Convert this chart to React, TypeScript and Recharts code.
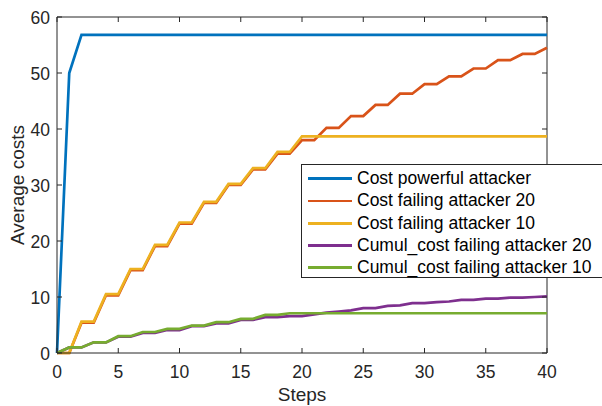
import { LineChart, Line, XAxis, YAxis, ReferenceLine } from "recharts";

const steps = [0, 1, 2, 3, 4, 5, 6, 7, 8, 9, 10, 11, 12, 13, 14, 15, 16, 17, 18, 19, 20, 21, 22, 23, 24, 25, 26, 27, 28, 29, 30, 31, 32, 33, 34, 35, 36, 37, 38, 39, 40];

const costPowerful = [0, 50, 56.8, 56.8, 56.8, 56.8, 56.8, 56.8, 56.8, 56.8, 56.8, 56.8, 56.8, 56.8, 56.8, 56.8, 56.8, 56.8, 56.8, 56.8, 56.8, 56.8, 56.8, 56.8, 56.8, 56.8, 56.8, 56.8, 56.8, 56.8, 56.8, 56.8, 56.8, 56.8, 56.8, 56.8, 56.8, 56.8, 56.8, 56.8, 56.8];
const costFailing20 = [0, 0, 5.4, 5.4, 10.3, 10.3, 14.8, 14.8, 19.1, 19.1, 23.1, 23.1, 26.8, 26.8, 30.0, 30.0, 32.8, 32.8, 35.6, 35.6, 38.0, 38.0, 40.2, 40.2, 42.3, 42.3, 44.3, 44.3, 46.3, 46.3, 48.0, 48.0, 49.4, 49.4, 50.8, 50.8, 52.3, 52.3, 53.4, 53.4, 54.5];
const costFailing10 = [0, 0, 5.6, 5.6, 10.5, 10.5, 15.0, 15.0, 19.3, 19.3, 23.3, 23.3, 27.0, 27.0, 30.2, 30.2, 33.0, 33.0, 35.9, 35.9, 38.7, 38.7, 38.7, 38.7, 38.7, 38.7, 38.7, 38.7, 38.7, 38.7, 38.7, 38.7, 38.7, 38.7, 38.7, 38.7, 38.7, 38.7, 38.7, 38.7, 38.7];
const cumulFailing20 = [0, 1.0, 1.0, 1.9, 1.9, 2.9, 2.9, 3.6, 3.6, 4.1, 4.1, 4.8, 4.8, 5.3, 5.3, 5.9, 5.9, 6.4, 6.4, 6.6, 6.6, 6.9, 7.2, 7.4, 7.6, 8.0, 8.0, 8.4, 8.5, 8.9, 8.9, 9.1, 9.2, 9.5, 9.5, 9.7, 9.7, 9.9, 9.9, 10.0, 10.1];
const cumulFailing10 = [0, 1.0, 1.0, 1.9, 1.9, 3.0, 3.0, 3.75, 3.75, 4.3, 4.3, 4.9, 4.9, 5.5, 5.5, 6.1, 6.1, 6.8, 6.8, 7.1, 7.1, 7.1, 7.1, 7.1, 7.1, 7.1, 7.1, 7.1, 7.1, 7.1, 7.1, 7.1, 7.1, 7.1, 7.1, 7.1, 7.1, 7.1, 7.1, 7.1, 7.1];

const xTicks = [0, 5, 10, 15, 20, 25, 30, 35, 40];
const yTicks = [0, 10, 20, 30, 40, 50, 60];

const series = [
  { key: "powerful", name: "Cost powerful attacker", color: "#0072BD", values: costPowerful },
  { key: "fail20", name: "Cost failing attacker 20", color: "#D95319", values: costFailing20 },
  { key: "fail10", name: "Cost failing attacker 10", color: "#EDB120", values: costFailing10 },
  { key: "cumul20", name: "Cumul_cost failing attacker 20", color: "#7E2F8E", values: cumulFailing20 },
  { key: "cumul10", name: "Cumul_cost failing attacker 10", color: "#77AC30", values: cumulFailing10 },
];

const data = steps.map((s, i) => {
  const row: Record<string, number> = { step: s };
  series.forEach((sr) => (row[sr.key] = sr.values[i]));
  return row;
});

const AXIS = "#262626";
const FONT = "'Liberation Sans', Arial, sans-serif";
const PLOT_TOP = 17;
const PLOT_RIGHT = 547;

const XTick = ({ x, y, payload }: any) => (
  <g>
    <line x1={x} y1={y} x2={x} y2={y - 5} stroke={AXIS} />
    <line x1={x} y1={PLOT_TOP} x2={x} y2={PLOT_TOP + 5} stroke={AXIS} />
    <text x={x} y={y + 25} textAnchor="middle" fontSize={17.5} fill={AXIS} fontFamily={FONT}>
      {payload.value}
    </text>
  </g>
);

const YTick = ({ x, y, payload }: any) => (
  <g>
    <line x1={x} y1={y} x2={x + 5} y2={y} stroke={AXIS} />
    <line x1={PLOT_RIGHT} y1={y} x2={PLOT_RIGHT - 5} y2={y} stroke={AXIS} />
    <text x={x - 7} y={y + 6.5} textAnchor="end" fontSize={17.5} fill={AXIS} fontFamily={FONT}>
      {payload.value}
    </text>
  </g>
);

const XTitle = ({ viewBox }: any) => (
  <text x={viewBox.x + viewBox.width / 2} y={401} textAnchor="middle" fontSize={19} fill={AXIS} fontFamily={FONT}>
    Steps
  </text>
);

const YTitle = ({ viewBox }: any) => {
  const cy = viewBox.y + viewBox.height / 2;
  return (
    <text x={23.5} y={cy} transform={`rotate(-90, 23.5, ${cy})`} textAnchor="middle" fontSize={19} fill={AXIS} fontFamily={FONT}>
      Average costs
    </text>
  );
};

export default function App() {
  return (
    <div style={{ position: "absolute", left: 0, top: 0, width: 602, height: 406, overflow: "hidden", background: "#fff", fontFamily: FONT }}>
      <LineChart width={602} height={406} data={data} margin={{ top: 17, right: 55, bottom: 0, left: 0 }}>
        <XAxis
          dataKey="step"
          type="number"
          domain={[0, 40]}
          ticks={xTicks}
          height={53}
          tickSize={0}
          tickMargin={0}
          tickLine={false}
          tick={<XTick />}
          axisLine={{ stroke: AXIS }}
          label={<XTitle />}
        />
        <YAxis
          type="number"
          domain={[0, 60]}
          ticks={yTicks}
          width={57}
          tickSize={0}
          tickMargin={0}
          tickLine={false}
          tick={<YTick />}
          axisLine={{ stroke: AXIS }}
          label={<YTitle />}
        />
        <ReferenceLine y={60} stroke={AXIS} />
        <ReferenceLine x={40} stroke={AXIS} />
        {series.map((s) => (
          <Line
            key={s.key}
            dataKey={s.key}
            name={s.name}
            type="linear"
            stroke={s.color}
            strokeWidth={2.7}
            dot={false}
            isAnimationActive={false}
          />
        ))}
      </LineChart>
      <div
        style={{
          position: "absolute",
          left: 301,
          top: 164,
          width: 320,
          height: 114,
          border: `1px solid ${AXIS}`,
          background: "#fff",
          paddingTop: 2.5,
          boxSizing: "border-box",
        }}
      >
        {series.map((s) => (
          <div key={s.key} style={{ display: "flex", alignItems: "center", height: 22.3 }}>
            <div style={{ marginLeft: 6, width: 44, height: 2.7, background: s.color }} />
            <span style={{ marginLeft: 5, fontSize: 17.5, color: "#000", whiteSpace: "nowrap" }}>{s.name}</span>
          </div>
        ))}
      </div>
    </div>
  );
}
